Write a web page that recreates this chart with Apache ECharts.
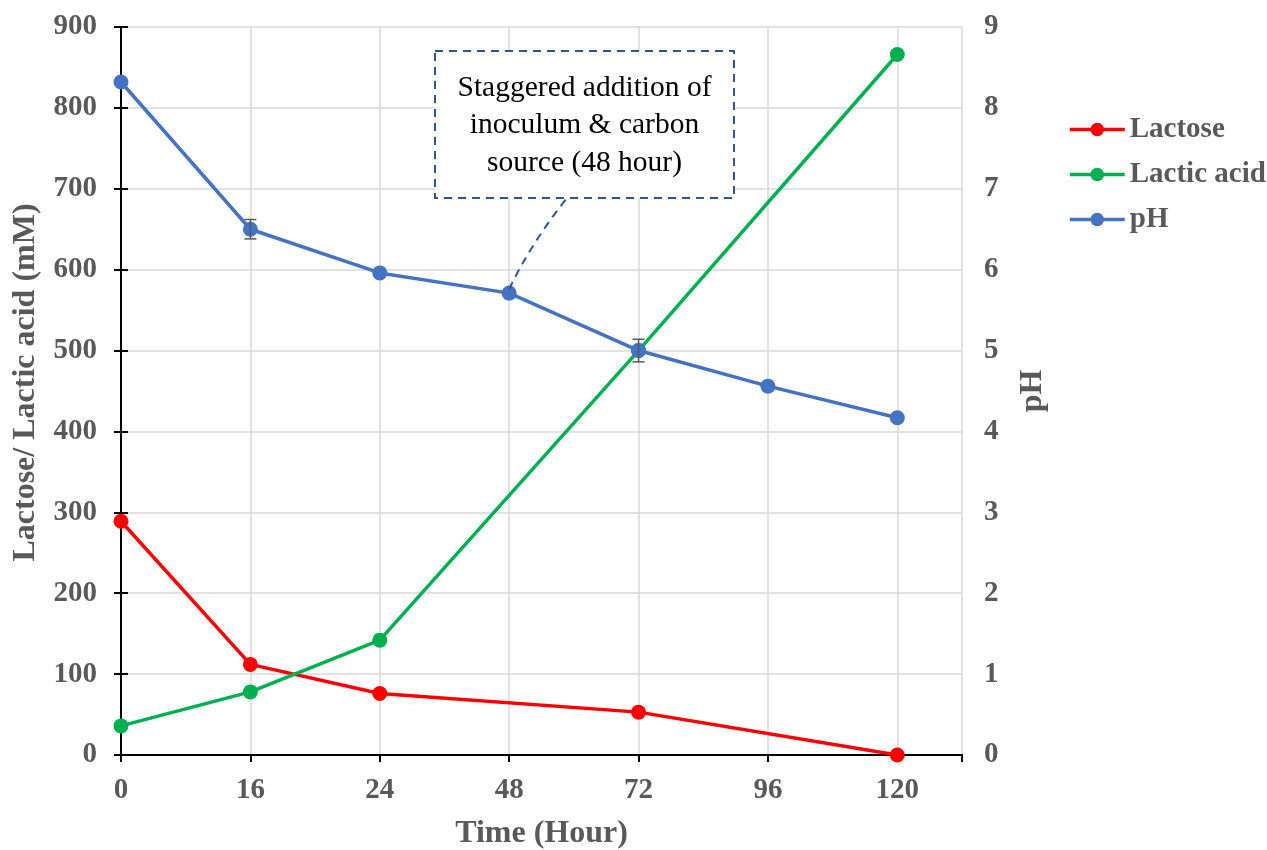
<!DOCTYPE html>
<html>
<head>
<meta charset="utf-8">
<script src="https://cdn.jsdelivr.net/npm/echarts@6/dist/echarts.min.js"></script>
<style>
  html, body { margin: 0; padding: 0; background: #ffffff; }
  #chart { width: 1267px; height: 850px; }
</style>
</head>
<body>
<div id="chart"></div>
<script>
// Sampling times (hours), shown as evenly spaced categories
const timeLabels = ['0', '16', '24', '48', '72', '96', '120'];
// Lactose and lactic acid concentrations (mM); null = not measured
const lactose = [289, 112, 76, null, 53, null, 0];
const lacticAcid = [36, 78, 142, null, 500, null, 866];
// Broth pH and its standard deviation
const pH = [8.32, 6.50, 5.96, 5.71, 5.00, 4.56, 4.17];
const pHError = [0, 0.12, 0, 0, 0.14, 0, 0];

const calloutText = 'Staggered addition of\ninoculum & carbon\nsource (48 hour)';

const GREY = '#595959';
const FONT = 'Liberation Serif';

function toPoints(values) {
  const pts = [];
  values.forEach((v, i) => { if (v !== null) pts.push([i, v]); });
  return pts;
}

const chart = echarts.init(document.getElementById('chart'), null, { renderer: 'canvas' });

const tickLabelStyle = { color: GREY, fontFamily: FONT, fontWeight: 'bold', fontSize: 29 };
const nameStyle = { color: GREY, fontFamily: FONT, fontWeight: 'bold', fontSize: 32 };
const blackLine = { show: true, lineStyle: { color: '#000000', width: 2 } };
const blackTick = { show: true, length: 7, lineStyle: { color: '#000000', width: 2 } };
const gridLine = { show: true, lineStyle: { color: '#d9d9d9', width: 1.5 } };

const option = {
  animation: false,
  backgroundColor: '#ffffff',
  grid: { left: 121, right: 305, top: 27, bottom: 95, containLabel: false, outerBoundsMode: 'none' },
  legend: {
    orient: 'vertical',
    left: 1068,
    top: 115,
    padding: 0,
    itemWidth: 55,
    itemHeight: 17,
    itemGap: 16,
    lineStyle: { width: 3.5 },
    textStyle: { color: GREY, fontFamily: FONT, fontWeight: 'bold', fontSize: 29, lineHeight: 28 },
    data: ['Lactose', 'Lactic acid', 'pH']
  },
  xAxis: [
    {
      type: 'value',
      min: 0,
      max: 6.5,
      interval: 1,
      name: 'Time (Hour)',
      nameLocation: 'middle',
      nameGap: 63,
      nameTextStyle: nameStyle,
      axisLine: { show: true, onZero: false, lineStyle: { color: '#000000', width: 2 } },
      axisTick: blackTick,
      axisLabel: {
        ...tickLabelStyle,
        margin: 21,
        formatter: v => (Number.isInteger(v) && timeLabels[v] !== undefined) ? timeLabels[v] : ''
      },
      splitLine: gridLine
    },
    {
      type: 'value',
      position: 'top',
      min: 0,
      max: 6.5,
      axisLine: blackLine,
      axisTick: { show: false },
      axisLabel: { show: false },
      splitLine: { show: false }
    }
  ],
  yAxis: [
    {
      type: 'value',
      min: 0,
      max: 900,
      interval: 100,
      name: 'Lactose/ Lactic acid (mM)',
      nameLocation: 'middle',
      nameRotate: 90,
      nameGap: 79,
      nameTextStyle: { ...nameStyle, padding: [0, 0, 0, 17] },
      axisLine: blackLine,
      axisTick: blackTick,
      axisLabel: { ...tickLabelStyle, margin: 24 },
      splitLine: gridLine
    },
    {
      type: 'value',
      min: 0,
      max: 9,
      interval: 1,
      position: 'right',
      name: 'pH',
      nameLocation: 'middle',
      nameRotate: 90,
      nameGap: 55,
      nameTextStyle: nameStyle,
      axisLine: blackLine,
      axisTick: blackTick,
      axisLabel: { ...tickLabelStyle, margin: 22 },
      splitLine: { show: false }
    }
  ],
  series: [
    {
      name: 'Lactose',
      type: 'line',
      yAxisIndex: 0,
      data: toPoints(lactose),
      color: '#ff0000',
      symbol: 'circle',
      symbolSize: 15,
      lineStyle: { width: 3.5 },
      z: 3
    },
    {
      name: 'Lactic acid',
      type: 'line',
      yAxisIndex: 0,
      data: toPoints(lacticAcid),
      color: '#00b050',
      symbol: 'circle',
      symbolSize: 15,
      lineStyle: { width: 3.5 },
      z: 3
    },
    {
      name: 'pH',
      type: 'line',
      yAxisIndex: 1,
      data: toPoints(pH),
      color: '#4472c4',
      symbol: 'circle',
      symbolSize: 15,
      lineStyle: { width: 3.5 },
      z: 4
    },
    {
      name: 'pH error',
      type: 'custom',
      yAxisIndex: 1,
      z: 5,
      data: pH.map((v, i) => [i, v, pHError[i]]),
      renderItem: function (params, api) {
        const err = api.value(2);
        if (!err) return null;
        const x = api.value(0), y = api.value(1);
        const hi = api.coord([x, y + err]);
        const lo = api.coord([x, y - err]);
        const cap = 6;
        const style = { stroke: GREY, lineWidth: 1.5 };
        return {
          type: 'group',
          children: [
            { type: 'line', shape: { x1: hi[0], y1: hi[1], x2: lo[0], y2: lo[1] }, style },
            { type: 'line', shape: { x1: hi[0] - cap, y1: hi[1], x2: hi[0] + cap, y2: hi[1] }, style },
            { type: 'line', shape: { x1: lo[0] - cap, y1: lo[1], x2: lo[0] + cap, y2: lo[1] }, style }
          ]
        };
      }
    }
  ]
};

chart.setOption(option);

// Callout box with a dashed leader to the 48 h pH point
const anchor = chart.convertToPixel({ xAxisIndex: 0, yAxisIndex: 1 }, [3, pH[3]]);
const box = { x: 435, y: 51, w: 299, h: 147 };
const leaderEnd = [567, box.y + box.h];
const dash = { stroke: '#2f5597', lineWidth: 2, lineDash: [8, 6] };

chart.setOption({
  graphic: [
    {
      type: 'rect',
      shape: { x: box.x, y: box.y, width: box.w, height: box.h },
      style: { fill: '#ffffff', ...dash },
      z: 10
    },
    {
      type: 'text',
      x: box.x + box.w / 2,
      y: box.y + box.h / 2 + 1,
      style: {
        text: calloutText,
        fill: '#000000',
        font: '29.5px "Liberation Serif"',
        lineHeight: 37.5,
        align: 'center',
        verticalAlign: 'middle'
      },
      z: 11
    },
    {
      type: 'bezierCurve',
      shape: {
        x1: anchor[0], y1: anchor[1] - 4,
        x2: leaderEnd[0], y2: leaderEnd[1],
        cpx1: anchor[0] + 22, cpy1: anchor[1] - 50
      },
      style: { fill: null, ...dash },
      z: 10
    }
  ]
});
</script>
</body>
</html>
